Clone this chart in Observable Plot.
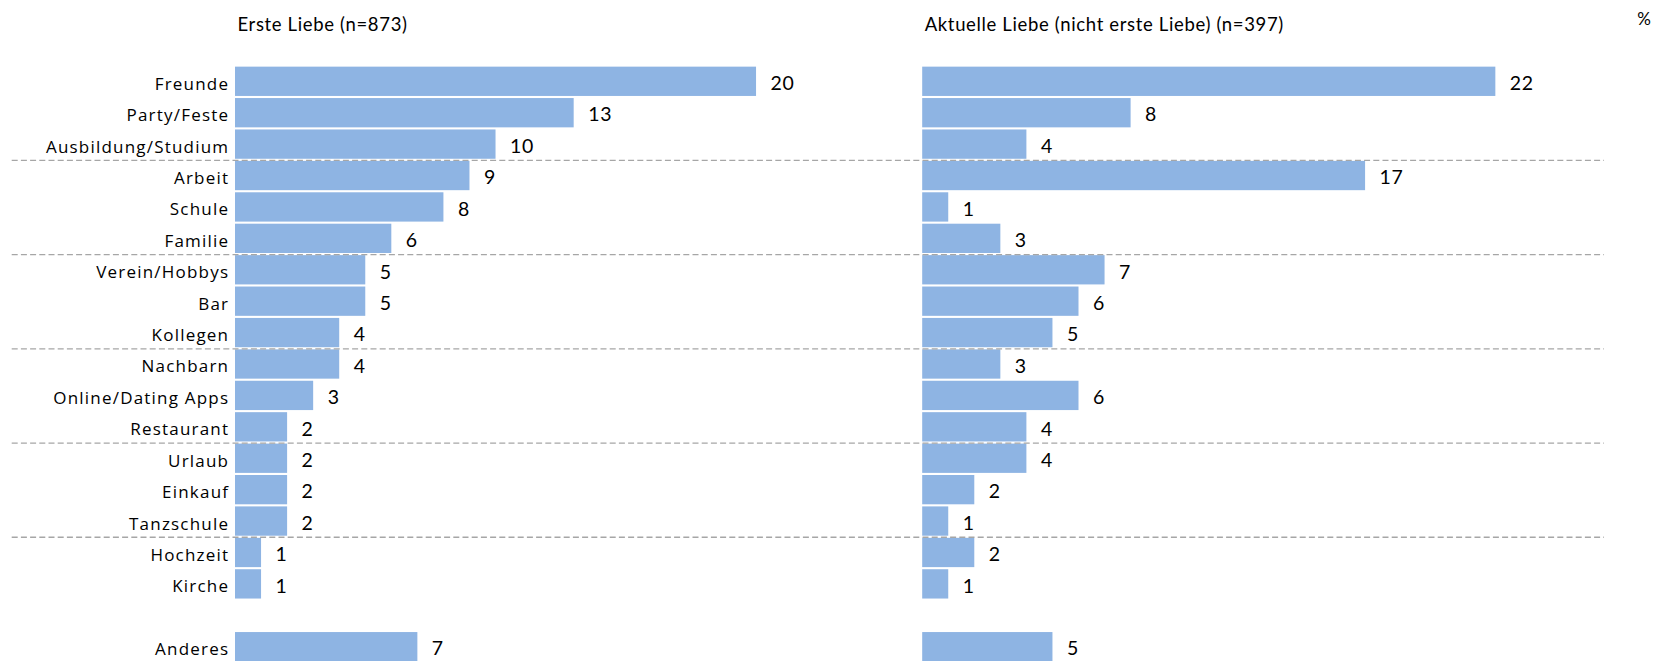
<!DOCTYPE html>
<html>
<head>
<meta charset="utf-8">
<script src="https://cdn.jsdelivr.net/npm/d3@7"></script>
<script src="https://cdn.jsdelivr.net/npm/@observablehq/plot@0.6"></script>
<style>
  html, body { margin: 0; padding: 0; background: #fff; overflow: hidden; }
  #chart { width: 1661px; height: 661px; overflow: hidden; }
  #chart g[aria-label="y-axis tick label"] text { font-family: "Open Sans", sans-serif; letter-spacing: 1.2px; }
</style>
</head>
<body>
<div id="chart"></div>
<script>
// ---- data ----
const categories = ["Freunde", "Party/Feste", "Ausbildung/Studium", "Arbeit", "Schule", "Familie",
  "Verein/Hobbys", "Bar", "Kollegen", "Nachbarn", "Online/Dating Apps", "Restaurant",
  "Urlaub", "Einkauf", "Tanzschule", "Hochzeit", "Kirche", "Anderes"];
const ersteLiebe    = [20, 13, 10, 9, 8, 6, 5, 5, 4, 4, 3, 2, 2, 2, 2, 1, 1, 7];
const aktuelleLiebe = [22, 8, 4, 17, 1, 3, 7, 6, 5, 3, 6, 4, 4, 2, 1, 2, 1, 5];
const panelTitles = ["Erste Liebe (n=873)", "Aktuelle Liebe (nicht erste Liebe) (n=397)"];
const groupEnds = ["Ausbildung/Studium", "Familie", "Kollegen", "Restaurant", "Tanzschule"];
const spacer = " ";
const unitLabel = "%";

// ---- derived table ----
const rows = [];
categories.forEach((c, i) => {
  rows.push({panel: panelTitles[0], category: c, value: ersteLiebe[i]});
  rows.push({panel: panelTitles[1], category: c, value: aktuelleLiebe[i]});
});
const yDomain = [...categories.slice(0, categories.length - 1), spacer, categories[categories.length - 1]];

const font = "Lato, 'Open Sans', sans-serif";
const step = (662.4 - 65.6) / yDomain.length;

const chart = Plot.plot({
  width: 1661,
  height: 663,
  marginLeft: 235,
  marginRight: 56.5,
  marginTop: 65.6,
  marginBottom: 0.6,
  style: {fontFamily: font, fontSize: "17px", color: "#000", background: "#fff", letterSpacing: "0.65px"},
  fx: {domain: panelTitles, axis: null, paddingInner: 0.0071, paddingOuter: 0, round: false},
  x: {domain: [0, 26.19], axis: null},
  y: {domain: yDomain, paddingInner: 0.067, paddingOuter: 0.033, round: false, axis: null},
  marks: [
    Plot.barX(rows, {x: "value", y: "category", fx: "panel", fill: "#8eb4e3"}),
    Plot.axisY({tickSize: 0, tickPadding: 6.3, label: null, dy: 2.5, fontSize: 17}),
    Plot.text(rows, {x: "value", y: "category", fx: "panel", text: d => String(d.value),
      textAnchor: "start", dx: 14, dy: 2, fontSize: 19.5, fill: "#000"}),
    Plot.ruleY(groupEnds, {y: d => d, fx: () => panelTitles[0], dy: step / 2,
      insetLeft: -223.3, insetRight: -686.7,
      stroke: "#a6a6a6", strokeWidth: 1.3, strokeDasharray: "6,3.2"}),
    Plot.text(panelTitles, {fx: d => d, text: d => d, frameAnchor: "top-left", lineAnchor: "middle",
      textAnchor: "start", dx: 2, dy: -41.5, fontSize: 18.5, fill: "#000"}),
    Plot.text([unitLabel], {fx: () => panelTitles[1], text: d => d, frameAnchor: "top-right", lineAnchor: "middle",
      textAnchor: "middle", dx: 39.5, dy: -46.6, fontSize: 17, fill: "#000"})
  ]
});
document.getElementById("chart").appendChild(chart);
</script>
</body>
</html>
